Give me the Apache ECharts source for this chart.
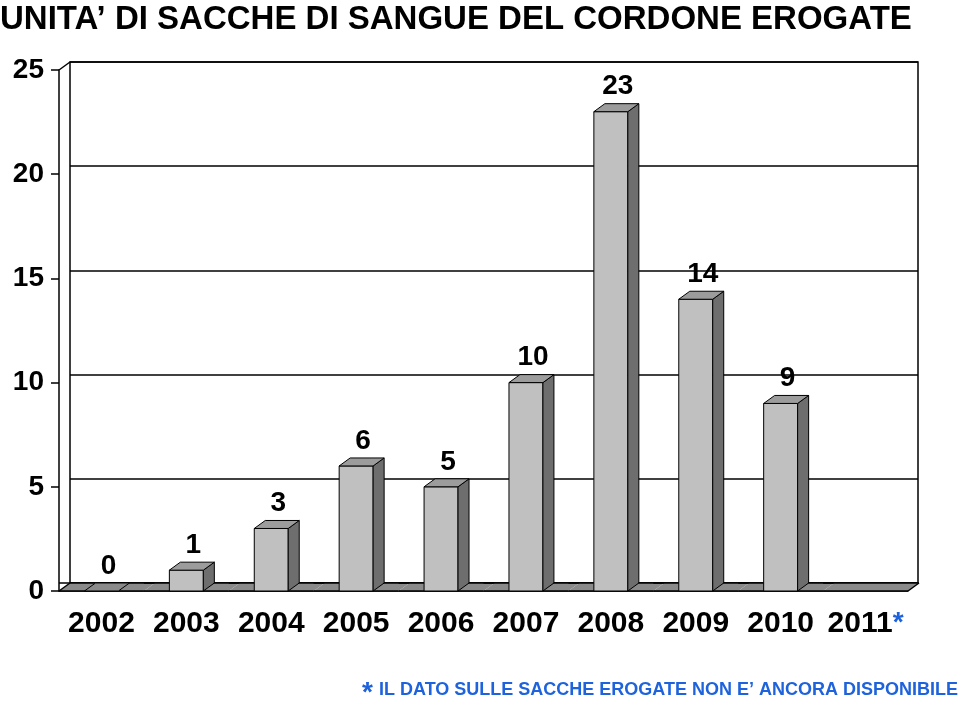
<!DOCTYPE html>
<html>
<head>
<meta charset="utf-8">
<script src="https://cdn.jsdelivr.net/npm/echarts@6/dist/echarts.min.js"></script>
<style>
html, body { margin: 0; padding: 0; background: #fff; }
#chart { width: 960px; height: 702px; }
</style>
</head>
<body>
<div id="chart"></div>
<script>
// dati
var anni = ['2002', '2003', '2004', '2005', '2006', '2007', '2008', '2009', '2010', '2011'];
var sacche = [0, 1, 3, 6, 5, 10, 23, 14, 9, null]; // 2011 non disponibile
var yMin = 0, yMax = 25, yPasso = 5;

var DX = 11, DY = 8; // profondita' 3d in pixel
var FONT = '"Liberation Sans", Arial, Helvetica, sans-serif';
var BLU = '#1e63dc';

var chart = echarts.init(document.getElementById('chart'));

function renderPavimento(params, api) {
    var i = api.value(0);
    var base = api.coord([i, 0]);
    var band = api.size([1, 0])[0];
    var xa = base[0] - band / 2, xb = base[0] + band / 2, y = base[1];
    var linea = { stroke: '#000', lineWidth: 1.5 };
    var children = [{
        type: 'polygon',
        shape: { points: [[xa, y], [xb, y], [xb + DX, y - DY], [xa + DX, y - DY]] },
        style: { fill: '#8a8a8a' }
    }, {
        type: 'line', shape: { x1: xa, y1: y - DY, x2: xb + DX, y2: y - DY }, style: linea
    }, {
        type: 'line', shape: { x1: xa, y1: y, x2: xb, y2: y }, style: linea
    }];
    if (i === 0) {
        var alto = api.coord([i, yMax]);
        children.push({ type: 'line', shape: { x1: xa, y1: y, x2: xa + DX, y2: y - DY }, style: linea });
        children.push({ type: 'line', shape: { x1: xa, y1: alto[1], x2: xa + DX, y2: alto[1] - DY }, style: linea });
    }
    if (i === anni.length - 1) {
        children.push({ type: 'line', shape: { x1: xb, y1: y, x2: xb + DX, y2: y - DY }, style: linea });
    }
    return { type: 'group', children: children };
}

function renderBarra(params, api) {
    var v = api.value(1);
    var base = api.coord([api.value(0), 0]);
    var top = api.coord([api.value(0), v]);
    var w = api.size([1, 0])[0] * 0.4;
    var x0 = base[0] - w / 2, x1 = base[0] + w / 2;
    var yb = base[1], yt = top[1];
    var bordo = { stroke: '#000', lineWidth: 1 };
    var children = [];
    if (v > 0) {
        children.push({
            type: 'rect',
            shape: { x: x0, y: yt, width: w, height: yb - yt },
            style: Object.assign({ fill: '#c0c0c0' }, bordo)
        });
        children.push({
            type: 'polygon',
            shape: { points: [[x1, yb], [x1 + DX, yb - DY], [x1 + DX, yt - DY], [x1, yt]] },
            style: Object.assign({ fill: '#6e6e6e' }, bordo)
        });
    }
    children.push({
        type: 'polygon',
        shape: { points: [[x0, yt], [x1, yt], [x1 + DX, yt - DY], [x0 + DX, yt - DY]] },
        style: Object.assign({ fill: v > 0 ? '#9c9c9c' : '#8a8a8a' }, bordo)
    });
    children.push({
        type: 'text',
        style: {
            x: base[0] + 7, y: yt - DY - 3,
            text: String(v),
            fill: '#000',
            font: 'bold 28px ' + FONT,
            align: 'center', verticalAlign: 'bottom'
        }
    });
    return { type: 'group', children: children };
}

var datiBarre = [];
sacche.forEach(function(v, i) {
    if (v !== null) datiBarre.push([i, v]);
});

option = {
    animation: false,
    grid: [{
        left: 59, right: 52, top: 70, bottom: 111
    }, {
        // parete di fondo
        left: 70, right: 42, top: 62, bottom: 119,
        show: true, borderColor: '#000', borderWidth: 1.5, backgroundColor: 'transparent'
    }],
    xAxis: [{
        type: 'category',
        gridIndex: 0,
        data: anni,
        axisLine: { lineStyle: { color: '#000', width: 1.5 } },
        axisTick: { length: 9, lineStyle: { color: '#000', width: 1.5 } },
        axisLabel: {
            interval: 0,
            hideOverlap: false,
            color: '#000', fontFamily: FONT, fontWeight: 'bold', fontSize: 30, margin: 18,
            formatter: function(val, idx) {
                return sacche[idx] === null ? val + '{ast|*}' : val;
            },
            rich: {
                ast: { color: BLU, fontSize: 28, fontWeight: 'bold', fontFamily: FONT, verticalAlign: 'top', lineHeight: 10 }
            }
        }
    }, {
        type: 'category',
        gridIndex: 1,
        data: anni,
        show: false
    }],
    yAxis: [{
        type: 'value',
        gridIndex: 0,
        min: yMin, max: yMax, interval: yPasso,
        axisLine: { show: true, lineStyle: { color: '#000', width: 1.5 } },
        axisTick: { show: true, length: 8, lineStyle: { color: '#000', width: 1.5 } },
        splitLine: { show: false },
        axisLabel: { color: '#000', fontFamily: FONT, fontWeight: 'bold', fontSize: 28, margin: 15 }
    }, {
        type: 'value',
        gridIndex: 1,
        min: yMin, max: yMax, interval: yPasso,
        axisLine: { show: false },
        axisTick: { show: false },
        axisLabel: { show: false },
        splitLine: { show: true, lineStyle: { color: '#000', width: 1.5 } }
    }],
    series: [{
        type: 'custom',
        name: 'pavimento',
        xAxisIndex: 0, yAxisIndex: 0,
        renderItem: renderPavimento,
        data: anni.map(function(a, i) { return [i, 0]; }),
        z: 1,
        silent: true
    }, {
        type: 'custom',
        name: 'Unità erogate',
        xAxisIndex: 0, yAxisIndex: 0,
        renderItem: renderBarra,
        data: datiBarre,
        z: 3
    }],
    graphic: [{
        type: 'text',
        left: 0, top: 3,
        style: {
            text: 'UNITA’ DI SACCHE DI SANGUE DEL CORDONE EROGATE',
            font: 'bold 33px ' + FONT,
            fill: '#000'
        }
    }, {
        type: 'text',
        right: 2, bottom: -5,
        style: {
            text: '{a|*}{b|IL DATO SULLE SACCHE EROGATE NON E’ ANCORA DISPONIBILE}',
            rich: {
                a: { fill: BLU, font: 'bold 28px ' + FONT, verticalAlign: 'top', lineHeight: 14, padding: [0, 6, 0, 0] },
                b: { fill: BLU, font: 'bold 18px ' + FONT, lineHeight: 22 }
            }
        }
    }]
};
chart.setOption(option);
</script>
</body>
</html>
